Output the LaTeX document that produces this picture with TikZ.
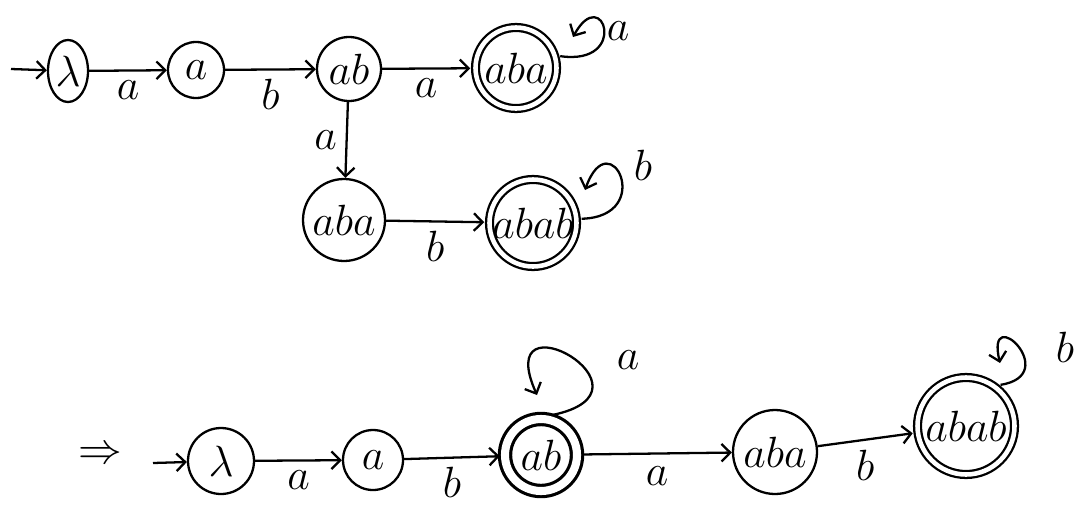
\documentclass[tikz,border=0pt]{standalone}
\usepackage{amsmath}
\usepackage{tikz}
\usetikzlibrary{arrows.meta, shapes.geometric}

\begin{document}
\begin{tikzpicture}[>={Straight Barb[length=5pt,width=10pt]}, line width=1.3pt, font=\Huge,
  st/.style={draw, circle, inner sep=0pt},
  acc/.style={st, double, double distance=2.6pt, outer sep=3pt},
  lbl/.style={inner sep=1pt}]

\useasboundingbox (0,0) rectangle (21.72,-10.36);

%-- first machine
\node[st, ellipse, minimum width=0.8cm, minimum height=1.24cm] (L0) at (1.36,-1.42) {$\lambda$};
\node[st, minimum size=1.12cm] (A0)    at (3.92,-1.40)  {$a$};
\node[st, minimum size=1.28cm] (AB0)   at (6.98,-1.38)  {$ab$};
\node[acc, minimum size=1.62cm] (ABA0) at (10.32,-1.36) {$aba$};
\node[st, minimum size=1.64cm] (ABA1)  at (6.88,-4.40)  {$aba$};
\node[acc, minimum size=1.74cm] (ABAB1) at (10.66,-4.46) {$abab$};

\coordinate (in0) at (0.22,-1.38);
\draw[->] (in0) -- (L0);
\draw[->] (L0)  -- node[lbl, below=4pt] (t1) {$a$} (A0);
\draw[->] (A0)  -- node[lbl, below=4pt] (t2) {$b$} (AB0);
\draw[->] (AB0) -- node[lbl, below=4pt] (t3) {$a$} (ABA0);
\draw[->] (AB0) -- node[lbl, left=4pt]  (t4) {$a$} (ABA1);
\draw[->] (ABA1) -- node[lbl, below=4pt] (t5) {$b$} (ABAB1);

%-- self loops
\coordinate (ABA0tip) at (11.46,-0.74);
\draw[->] (ABA0.15) .. controls +(1.4,-0.2) and +(0.6,1.1) .. (ABA0tip);
\node[lbl] (la0) at (12.36,-0.62) {$a$};

\coordinate (ABAB1tip) at (11.70,-3.80);
\draw[->] (ABAB1.5) .. controls +(1.5,0.04) and +(0.5,1.4) .. (ABAB1tip);
\node[lbl] (lb1) at (12.86,-3.30) {$b$};

%-- second machine
\node (imp) at (2.0,-9.10) {$\Rightarrow$};
\node[st, minimum size=1.32cm] (L1)   at (4.42,-9.22)  {$\lambda$};
\node[st, minimum size=1.2cm]  (A1)   at (7.46,-9.20)  {$a$};
\node[acc, minimum size=1.44cm, line width=1.8pt, double distance=4.6pt] (AB1) at (10.82,-9.10) {$ab$};
\node[st, minimum size=1.68cm] (ABA2) at (15.50,-9.04) {$aba$};
\node[acc, minimum size=1.94cm] (ABAB2) at (19.32,-8.52) {$abab$};

\coordinate (in1) at (3.06,-9.26);
\draw[->] (in1) -- (L1);
\draw[->] (L1)   -- node[lbl, below=4pt] (u1) {$a$} (A1);
\draw[->] (A1)   -- node[lbl, below=4pt] (u2) {$b$} (AB1);
\draw[->] (AB1)  -- node[lbl, below=6pt] (u3) {$a$} (ABA2);
\draw[->] (ABA2) -- node[lbl, below=4pt] (u4) {$b$} (ABAB2);

\coordinate (AB1tip) at (10.74,-7.90);
\draw[->] (AB1.75) .. controls +(2.36,0.48) and +(-0.94,2.1) .. (AB1tip);
\node[lbl] (la1) at (12.56,-7.20) {$a$};

\coordinate (ABAB2tip) at (20.0,-7.26);
\draw[->] (ABAB2.50) .. controls +(1.26,0.2) and +(-0.3,1.26) .. (ABAB2tip);
\node[lbl] (lb2) at (21.3,-6.94) {$b$};

\end{tikzpicture}
\end{document}
